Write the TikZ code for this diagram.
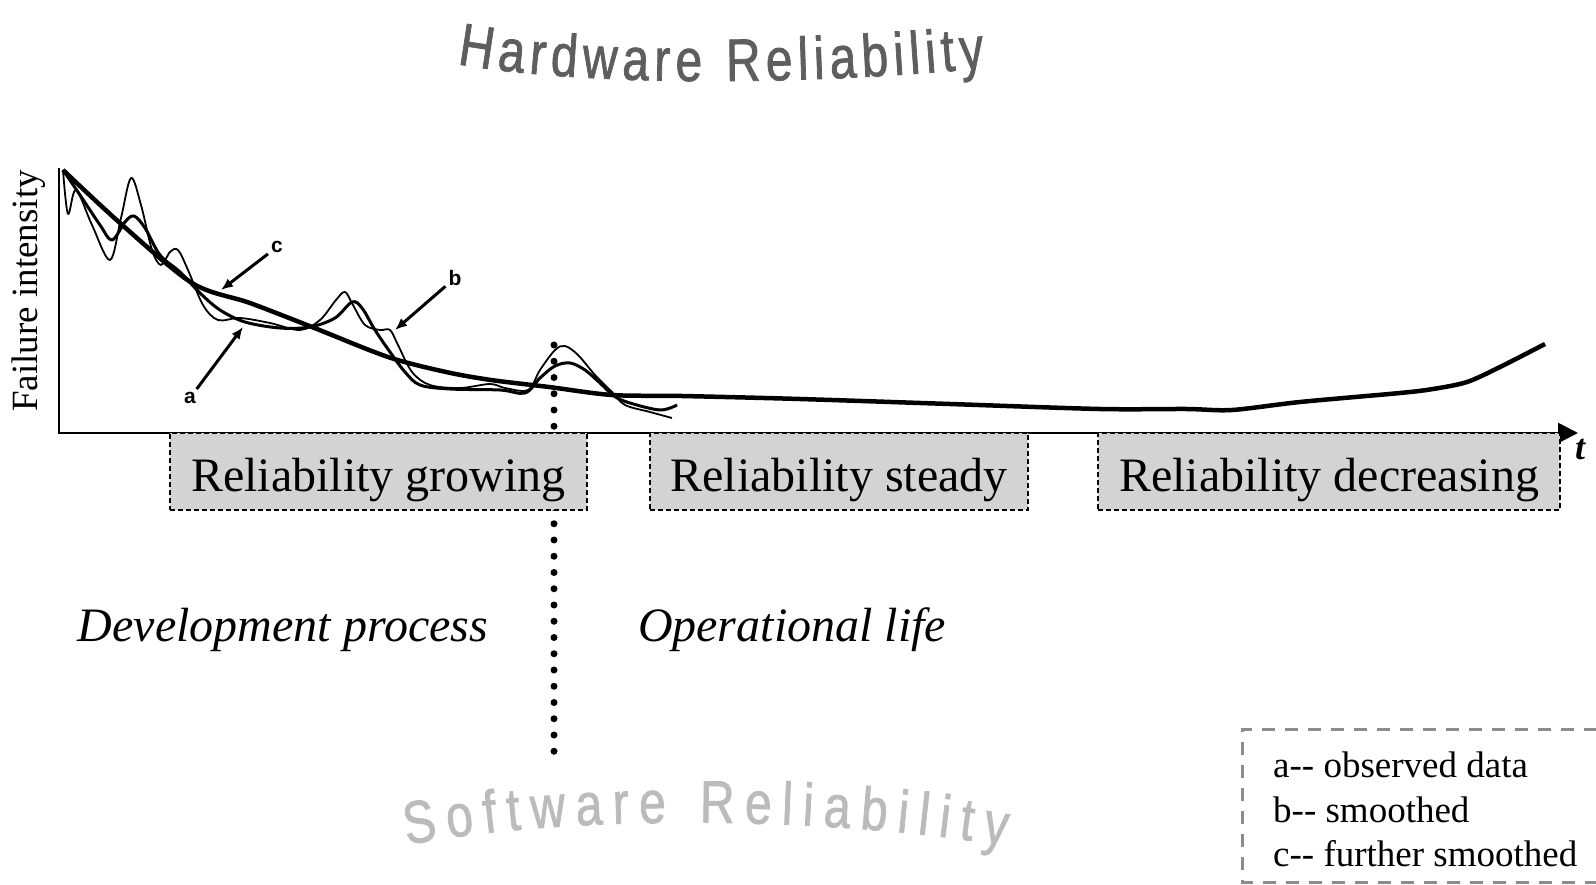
\documentclass[tikz,border=0pt]{standalone}
\usepackage{fontspec}
\setmainfont{Liberation Serif}
\newfontfamily\artfont[FakeStretch=0.8,FakeBold=1.2]{Liberation Sans}
\newfontfamily\labfont{Liberation Sans}
\usetikzlibrary{arrows.meta,decorations.text}
\definecolor{hwgray}{HTML}{5E5E5E}
\definecolor{swgray}{HTML}{BBBBBB}
\definecolor{boxgray}{HTML}{D3D3D3}
\definecolor{keygray}{HTML}{8C8C8C}

\begin{document}
\begin{tikzpicture}[x=1pt,y=1pt,
  relbox/.style={draw=black,line width=1.5pt,dash pattern=on 5pt off 3pt,fill=boxgray,
    minimum height=77pt,inner sep=0pt,text height=45pt,text depth=6pt,
    font=\fontsize{48}{52}\selectfont},
  phase/.style={inner sep=0pt,font=\fontsize{48}{52}\selectfont\itshape},
  keytext/.style={anchor=base west,inner sep=0pt,font=\fontsize{37}{40}\selectfont},
  curvelbl/.style={inner sep=3pt,font=\labfont\bfseries\fontsize{21}{22}\selectfont},
  pointer/.style={line width=3pt,-{Latex[length=12pt,width=10pt]}},
  axis/.style={line width=2.5pt,-{Triangle[length=20pt,width=20pt]}},
  divider/.style={line width=7pt,line cap=round,dash pattern=on 0pt off 16.25pt},
  obscurve/.style={line width=1.8pt,line join=round},
  smcurve/.style={line width=3pt,line join=round},
  fscurve/.style={line width=4.5pt,line join=round}]
\useasboundingbox (0,0) rectangle (1596,-885);

\path[decorate,decoration={text along path,text align={fit to path},text color=hwgray,
  text={|\artfont\fontsize{60}{62}\selectfont|Hardware Reliability}}]
  (457,-64) .. controls (580,-86) and (800,-86) .. (985,-68);
\path[decorate,decoration={text along path,text align={fit to path},text color=swgray,
  text={|\artfont\fontsize{60}{62}\selectfont|Software Reliability}}]
  (407,-845) .. controls (560,-815) and (820,-815) .. (1005,-846);

\coordinate (divtop) at (554,-345);
\coordinate (divbot) at (554,-752);
\draw[divider] (divtop) -- (divbot);

\coordinate (ytop) at (59,-168);
\coordinate (origin) at (59,-433);
\coordinate (xend) at (1578,-433);
\draw[axis] (ytop) -- (origin) -- (xend);
\node[font=\fontsize{36}{38}\selectfont\bfseries\itshape,inner sep=0pt] (tlbl) at (1580,-450) {t};
\node[rotate=90,inner sep=0pt,font=\fontsize{37}{40}\selectfont] (ylbl) at (29,-291) {Failure intensity};

\draw[obscurve] plot[smooth,tension=0.55] coordinates {(63,-170) (68,-214) (76,-190) (92,-225)
  (110,-260) (121,-218) (131,-178) (141,-205) (152,-250) (161,-265) (170,-252) (178,-250)
  (188,-270) (203,-305) (218,-320) (240,-318) (270,-323) (300,-330) (320,-320) (336,-300)
  (345,-292) (353,-305) (365,-325) (380,-330) (390,-330) (398,-345) (412,-372) (430,-385)
  (460,-388) (490,-384) (505,-388) (528,-390) (540,-370) (555,-350) (565,-346) (578,-355)
  (595,-375) (612,-392) (625,-405) (650,-412) (672,-418)};
\draw[smcurve] plot[smooth,tension=0.55] coordinates {(63,-170) (80,-195) (100,-225) (112,-240)
  (125,-222) (134,-216) (145,-228) (160,-255) (180,-272) (200,-293) (220,-310) (245,-322)
  (280,-328) (310,-327) (335,-318) (352,-302) (362,-308) (375,-330) (390,-352) (405,-372)
  (420,-385) (450,-389) (500,-390) (525,-393) (540,-378) (555,-366) (570,-363) (585,-370)
  (600,-383) (614,-396) (630,-403) (660,-410) (677,-405)};
\draw[fscurve] plot[smooth,tension=0.5] coordinates {(63,-170) (120,-223) (192,-283) (250,-303)
  (312,-327) (388,-357) (446,-372) (491,-380) (549,-387) (612,-395) (682,-396) (800,-399)
  (950,-404) (1100,-409) (1186,-409) (1232,-410) (1300,-402) (1400,-393) (1433,-389)
  (1467,-382) (1500,-367) (1545,-344)};

\node[curvelbl] (lblc) at (277,-247) {c};
\node[curvelbl] (lblb) at (455,-278) {b};
\node[curvelbl] (lbla) at (190,-398) {a};
\coordinate (ctip) at (221,-290);
\coordinate (btip) at (395,-330);
\coordinate (atip) at (243,-327);
\draw[pointer] (lblc) -- (ctip);
\draw[pointer] (lblb) -- (btip);
\draw[pointer] (lbla) -- (atip);

\node[relbox,minimum width=417pt] (growing) at (378.5,-471.5) {Reliability growing};
\node[relbox,minimum width=378pt] (steady) at (839,-471.5) {Reliability steady};
\node[relbox,minimum width=462pt] (decreasing) at (1329,-471.5) {Reliability decreasing};

\node[phase] (devel) at (283,-630) {Development process};
\node[phase] (operat) at (792,-630) {Operational life};

\draw[keygray,line width=3pt,dash pattern=on 13pt off 10pt] (1620,-729) -- (1242,-729) -- (1242,-882) -- (1620,-882);
\node[keytext] (keya) at (1273,-777) {a-{}- observed data};
\node[keytext] (keyb) at (1273,-822) {b-{}- smoothed};
\node[keytext] (keyc) at (1273,-866) {c-{}- further smoothed};
\end{tikzpicture}
\end{document}
